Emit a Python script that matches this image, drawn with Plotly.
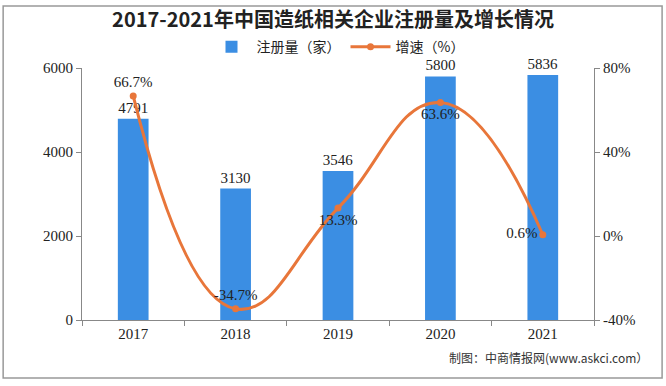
import plotly.graph_objects as go

years = ["2017", "2018", "2019", "2020", "2021"]
registrations = [4791, 3130, 3546, 5800, 5836]
growth = [66.7, -34.7, 13.3, 63.6, 0.6]
growth_labels = ["66.7%", "-34.7%", "13.3%", "63.6%", "0.6%"]
growth_label_pos = ["top center", "top center", "bottom center", "bottom center", "middle left"]
left_ticks = [0, 2000, 4000, 6000]
right_ticks = [-40, 0, 40, 80]
right_tick_labels = ["-40%", "0%", "40%", "80%"]

num_font = dict(family="Liberation Serif, DejaVu Serif, serif", size=15, color="#222222")

fig = go.Figure()
fig.add_trace(go.Bar(
    x=years, y=registrations, name="注册量（家）",
    marker=dict(color="#3B8EE3", line=dict(width=0)),
    width=0.3,
    text=[str(v) for v in registrations], textposition="outside",
    textfont=num_font, cliponaxis=False,
))
fig.add_trace(go.Scatter(
    x=years, y=growth, name="增速（%）", yaxis="y2",
    mode="lines+markers+text",
    line=dict(color="#E8763A", width=3, shape="spline", smoothing=1.3),
    marker=dict(color="#E8763A", size=7),
    text=growth_labels, textposition=growth_label_pos,
    textfont=num_font, cliponaxis=False,
))

fig.update_layout(
    width=666, height=386,
    margin=dict(l=82, r=72, t=68, b=66, autoexpand=False),
    paper_bgcolor="white", plot_bgcolor="white",
    title=dict(text="<b>2017-2021年中国造纸相关企业注册量及增长情况</b>",
               x=0.5, xanchor="center", y=0.948, yanchor="middle",
               font=dict(family="Noto Sans CJK SC", size=20, color="#222222")),
    legend=dict(orientation="h", x=0.5, xanchor="center", y=1.083, yanchor="middle",
                font=dict(family="Noto Sans CJK SC", size=14, color="#222222"),
                bgcolor="rgba(0,0,0,0)", traceorder="normal", itemwidth=40),
    showlegend=True,
    bargap=0.7,
    xaxis=dict(showline=True, linecolor="#888888", linewidth=1, ticks="outside",
               tickson="boundaries", ticklen=5, tickcolor="#888888",
               tickfont=num_font, showgrid=False),
    yaxis=dict(range=[0, 6000], tickvals=left_ticks, showline=True, linecolor="#888888",
               ticks="outside", ticklen=5, tickcolor="#888888", showgrid=False,
               zeroline=False, tickfont=num_font),
    yaxis2=dict(range=[-40, 80], tickvals=right_ticks, ticktext=right_tick_labels,
                overlaying="y", side="right", showline=True, linecolor="#888888",
                ticks="outside", ticklen=5, tickcolor="#888888", showgrid=False,
                zeroline=False, tickfont=num_font),
)

fig.add_shape(type="rect", xref="paper", yref="paper",
              x0=-0.154, x1=1.133, y0=-0.230, y1=1.246,
              line=dict(color="#999999", width=1.5))

fig.add_annotation(text="制图：中商情报网(www.askci.com）", xref="paper", yref="paper",
                   x=1.109, y=-0.147, xanchor="right", yanchor="middle", showarrow=False,
                   font=dict(family="Noto Sans CJK SC", size=12, color="#333333"))

fig.write_html("out.html", config={"displayModeBar": False},
               post_script="document.body.style.margin='0';")
